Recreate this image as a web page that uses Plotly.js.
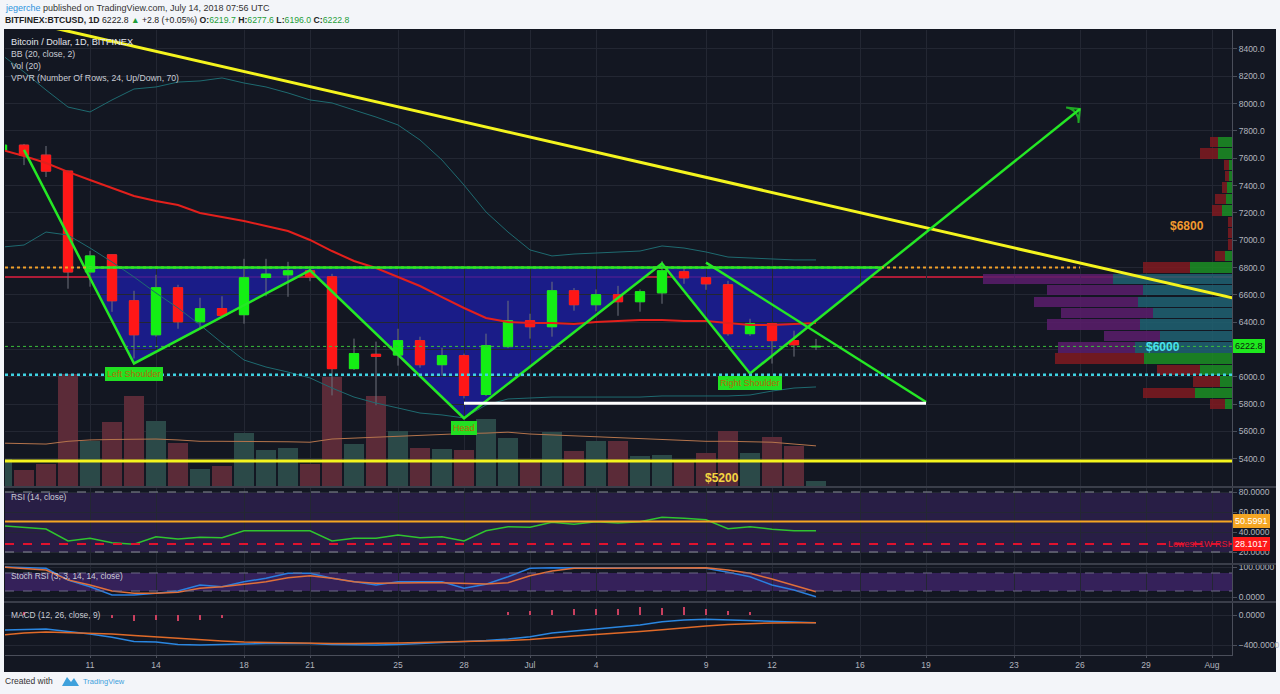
<!DOCTYPE html>
<html>
<head>
<meta charset="utf-8">
<script src="https://cdn.plot.ly/plotly-3.0.1.min.js"></script>
<style>
html,body{margin:0;padding:0;background:#f3f5f9;overflow:hidden;}
#chart{width:1280px;height:694px;}
</style>
</head>
<body>
<div id="chart"></div>
<script>
// ================= DATA =================
const dates = ['2018-06-07','2018-06-08','2018-06-09','2018-06-10','2018-06-11','2018-06-12','2018-06-13','2018-06-14','2018-06-15','2018-06-16','2018-06-17','2018-06-18','2018-06-19','2018-06-20','2018-06-21','2018-06-22','2018-06-23','2018-06-24','2018-06-25','2018-06-26','2018-06-27','2018-06-28','2018-06-29','2018-06-30','2018-07-01','2018-07-02','2018-07-03','2018-07-04','2018-07-05','2018-07-06','2018-07-07','2018-07-08','2018-07-09','2018-07-10','2018-07-11','2018-07-12','2018-07-13','2018-07-14'];
const open  = [7660,7696,7623,7506,6768,6893,6557,6308,6652,6403,6500,6455,6727,6747,6776,6732,6060,6165,6160,6265,6089,6155,5871,6221,6411,6367,6630,6528,6601,6550,6615,6769,6725,6674,6316,6389,6265,6219.7];
const high  = [7710,7705,7690,7510,6922,6895,6630,6747,6674,6579,6590,6864,6864,6842,6812,6754,6280,6258,6352,6294,6213,6170,6316,6557,6462,6696,6650,6640,6666,6640,6849,6790,6730,6703,6425,6395,6338,6277.6];
const low   = [7640,7550,7463,6645,6660,6476,6134,6294,6352,6359,6445,6389,6590,6586,6700,5864,6050,5792,6082,6067,6009,5842,5860,6210,6280,6294,6484,6480,6447,6477,6535,6681,6637,6301,6300,6097,6148,6196.0];
const close = [7696,7623,7506,6768,6885,6557,6308,6652,6403,6498,6450,6725,6752,6776,6732,6060,6170,6150,6265,6089,6155,5864,6228,6411,6367,6630,6528,6601,6550,6623,6776,6725,6681,6316,6389,6265,6235,6222.8];

const bbMid   = [7661,7617,7565,7500,7441,7382,7324,7287,7258,7199,7170,7141,7104,7068,7002,6921,6848,6797,6731,6665,6584,6504,6431,6401,6394,6394,6387,6401,6409,6416,6416,6409,6409,6394,6380,6380,6387,6394];
const bbUpper = [8356,8232,8100,7975,7939,8027,8107,8122,8158,8166,8188,8151,8122,8078,8027,8005,7953,7902,7844,7734,7587,7404,7207,7060,6929,6885,6899,6907,6914,6921,6958,6943,6914,6877,6870,6863,6856,6856];
const bbLower = [6950,6965,7060,7038,6943,6841,6731,6614,6504,6380,6248,6123,6072,6035,5992,5918,5852,5808,5772,5735,5721,5699,5794,5838,5845,5852,5852,5852,5852,5852,5860,5860,5860,5860,5867,5896,5918,5926];

const volume   = [5.9,3.5,4.8,24.5,9.8,14.0,19.7,14.2,9.4,3.7,4.4,11.6,7.9,8.3,4.8,23.9,9.2,19.7,12.0,8.3,8.1,7.9,14.7,10.5,5.3,11.8,7.7,9.8,9.8,6.6,6.8,5.3,7.2,12.0,7.2,10.7,8.8,1.1];
const volumeMA = [9.4,9.3,9.2,9.8,10.1,10.2,10.3,10.3,10.1,9.8,9.8,9.8,9.8,9.7,9.6,10.3,10.5,10.7,10.9,11.2,11.4,11.5,11.6,11.8,11.4,11.2,10.9,10.7,10.5,10.3,10.1,10.0,9.8,9.8,9.7,9.6,9.2,8.8];

const rsi    = [46.3,44.7,43,31,33.7,29.3,27.7,35.3,33,34.7,34.3,41.3,41.3,42,41.3,31,33.7,33.7,37,34.3,35.3,31,41.3,45.3,44.7,49.7,47.7,50.3,49,50.3,54.7,53.7,52.3,43.3,45.3,42.7,41.3,41.3];
const rsiLevelOrange = 50.5991;
const rsiLowest1W    = 28.1017;

const stochK = [100,98,95.7,56.7,34.3,6.7,6.7,12.3,20,40,34.3,51,62.3,79,79,62.3,51,40,51,51,51,29,42.3,67.7,95.7,97.7,97.7,97.7,97.7,97.7,97.7,98,95.7,82.3,67.7,40,23.3,1];
const stochD = [100,96,90,57,40,20,12.3,12.3,15.7,29,34.3,42.3,51,64.3,71,62.3,51,45.7,47.7,47.7,47.7,45.7,43.3,47.7,71,86.7,95.7,95.7,95.7,97.7,97.7,98,97.7,90,79,60,40,17.7];

const macd   = [-200,-193,-187,-220,-253,-297,-353,-360,-393,-400,-391,-380,-380,-380,-380,-393,-400,-400,-393,-380,-367,-360,-340,-320,-289,-240,-213,-177,-156,-133,-89,-67,-57,-67,-76,-89,-97,-103];
const signal = [-267,-240,-227,-233,-240,-253,-273,-293,-313,-333,-347,-360,-367,-373,-373,-380,-380,-380,-373,-367,-360,-353,-351,-340,-327,-300,-280,-260,-244,-220,-196,-167,-147,-127,-113,-105,-103,-103];
const macdHist = [0,40,0,0,0,-44,-80,-67,-80,-67,-44,0,0,0,0,0,0,0,0,0,0,0,0,44,53,71,80,80,80,103,93,103,80,57,44,0,0,0];

// Volume profile (24 rows): row centre price, up volume, down volume, value-area flag
const vpvrPrice = [5799,5882,5966,6049,6133,6216,6300,6383,6467,6550,6634,6717,6801,6884,6968,7051,7135,7218,7302,7385,7469,7552,7636,7719];
const vpvrUp    = [7,37,12,32,88,97,72,92,79,94,89,119,42,7,0,0,0,10,6,5,3,3,14,14];
const vpvrDown  = [15,52,27,43,89,77,56,93,92,104,96,130,47,10,4,4,4,10,11,5,4,5,18,8];
const vpvrValueArea = [0,0,0,0,0,1,1,1,1,1,1,1,0,0,0,0,0,0,0,0,0,0,0,0];

// Drawings (date, price)
const trendDates = ['2018-06-08','2018-08-02'];
const trendPrices = [8604, 6575];
const hsDates  = ['2018-06-08','2018-06-13','2018-06-21','2018-06-28','2018-07-07','2018-07-11'];
const hsPrices = [7661, 6098, 6780, 5697, 6830, 6025];
const arrowDates  = ['2018-07-11','2018-07-26'];
const arrowPrices = [6025, 7961];
const fallDates  = ['2018-07-09','2018-07-19'];
const fallPrices = [6836, 5816];
const floorDates  = ['2018-06-28','2018-07-19'];
const floorPrices = [5806, 5806];
const neckDates  = ['2018-06-10 20:00','2018-07-17 00:00'];
const neckPrice  = 6800;
const resistDates = ['2018-06-07','2018-07-26'];
const resistPrice = 6800;
const redLevel = 6730;
const supportLevel = 6015;
const yellowLevel = 5384;
const hsLabels = ['Left Shoulder','Head','Right Shoulder'];
const hsLabelDates = ['2018-06-13','2018-06-28','2018-07-11'];
const hsLabelPrices = [6021, 5625, 5955];
const noteTexts = ['$6800','$6000','$5200'];
const noteDates = ['2018-07-30 21:00','2018-07-29 19:00','2018-07-09 17:00'];
const notePrices = [7104, 6218, 5259];

const xTickVals = ['2018-06-11','2018-06-14','2018-06-18','2018-06-21','2018-06-25','2018-06-28','2018-07-01','2018-07-04','2018-07-09','2018-07-12','2018-07-16','2018-07-19','2018-07-23','2018-07-26','2018-07-29','2018-08-01'];
const xTickText = ['11','14','18','21','25','28','Jul','4','9','12','16','19','23','26','29','Aug'];
const priceTicks = [5400,5600,5800,6000,6200,6400,6600,6800,7000,7200,7400,7600,7800,8000,8200,8400];

// ================= STYLE / LAYOUT =================
const FONT = 'Liberation Sans, Arial, sans-serif';
const BG = '#131722';
const GRID = '#232733';
const AX = '#b2b5be';
const LINE = '#4a4e5a';
const DAY = 86400000;
const xRange = ['2018-06-07 03:16','2018-08-01 21:49'];
const xEdge = Date.UTC(2018,7,1,21,49);
const vpvrUnit = DAY/22;
const GREEN = '#14ef14', RED = '#ff1717', HS = '#25e825';

const isUp = close.map((c,i)=>c>=open[i]);
const last = close.length-1;
const traces = [];

// volume (base subplot)
traces.push({type:'bar', x:dates, y:volume, xaxis:'x', yaxis:'y', width:DAY*0.94,
  marker:{color:isUp.map(u=>u?'#2b4948':'#5b2b38'), line:{width:0}}, hoverinfo:'skip'});
traces.push({type:'scatter', mode:'lines', x:dates, y:volumeMA, xaxis:'x', yaxis:'y',
  line:{color:'#b5744c', width:1}, hoverinfo:'skip'});

// VPVR (horizontal bars anchored at the right edge)
const upLen = vpvrUp.map(v=>v*vpvrUnit);
const dnLen = vpvrDown.map(v=>v*vpvrUnit);
traces.push({type:'bar', orientation:'h', y:vpvrPrice, x:upLen, base:upLen.map(l=>xEdge-l),
  xaxis:'x', yaxis:'y2', width:76, opacity:0.85,
  marker:{color:vpvrValueArea.map(v=>v?'#1f6272':'#1c8f24'), line:{width:0}}, hoverinfo:'skip'});
traces.push({type:'bar', orientation:'h', y:vpvrPrice, x:dnLen, base:dnLen.map((l,i)=>xEdge-upLen[i]-l),
  xaxis:'x', yaxis:'y2', width:76, opacity:0.85,
  marker:{color:vpvrValueArea.map(v=>v?'#5b1d6c':'#801a20'), line:{width:0}}, hoverinfo:'skip'});

// candles: wicks, then bodies
traces.push({type:'candlestick', x:dates, open:open, high:high, low:low, close:close, xaxis:'x', yaxis:'y2',
  whiskerwidth:0, increasing:{line:{color:'#6f727d',width:1}, fillcolor:'#6f727d'},
  decreasing:{line:{color:'#6f727d',width:1}, fillcolor:'#6f727d'}, hoverinfo:'skip'});
traces.push({type:'candlestick', x:dates, open:open, close:close,
  high:open.map((o,i)=>Math.max(o,close[i])), low:open.map((o,i)=>Math.min(o,close[i])),
  xaxis:'x', yaxis:'y2', whiskerwidth:0,
  increasing:{line:{color:GREEN,width:1}, fillcolor:GREEN},
  decreasing:{line:{color:RED,width:1}, fillcolor:RED}, hoverinfo:'skip'});

// Bollinger bands
traces.push({type:'scatter', mode:'lines', x:dates, y:bbUpper, xaxis:'x', yaxis:'y2', line:{color:'#1e6a70', width:1}, hoverinfo:'skip'});
traces.push({type:'scatter', mode:'lines', x:dates, y:bbLower, xaxis:'x', yaxis:'y2', line:{color:'#1e6a70', width:1}, hoverinfo:'skip'});
traces.push({type:'scatter', mode:'lines', x:dates, y:bbMid, xaxis:'x', yaxis:'y2', line:{color:'#e3201c', width:2}, hoverinfo:'skip'});

// drawings
traces.push({type:'scatter', mode:'lines', x:trendDates, y:trendPrices, xaxis:'x', yaxis:'y2', line:{color:'#f4f41e', width:3}, hoverinfo:'skip'});
traces.push({type:'scatter', mode:'lines', x:hsDates, y:hsPrices, xaxis:'x', yaxis:'y2', line:{color:HS, width:2.5}, hoverinfo:'skip'});
traces.push({type:'scatter', mode:'lines', x:fallDates, y:fallPrices, xaxis:'x', yaxis:'y2', line:{color:HS, width:2.5}, hoverinfo:'skip'});
traces.push({type:'scatter', mode:'lines+markers', x:arrowDates, y:arrowPrices, xaxis:'x', yaxis:'y2',
  line:{color:HS, width:2.5},
  marker:{symbol:['circle','arrow-wide-open'], size:[0,14], angleref:'previous', color:HS, line:{color:HS,width:2}}, hoverinfo:'skip'});
traces.push({type:'scatter', mode:'lines', x:floorDates, y:floorPrices, xaxis:'x', yaxis:'y2', line:{color:'#ffffff', width:3}, hoverinfo:'skip'});

// RSI
traces.push({type:'scatter', mode:'lines', x:dates, y:rsi, xaxis:'x', yaxis:'y3', line:{color:'#2fc42f', width:1.5}, hoverinfo:'skip'});
// Stoch RSI
traces.push({type:'scatter', mode:'lines', x:dates, y:stochK, xaxis:'x', yaxis:'y4', line:{color:'#2a7fe0', width:1.5}, hoverinfo:'skip'});
traces.push({type:'scatter', mode:'lines', x:dates, y:stochD, xaxis:'x', yaxis:'y4', line:{color:'#e0703a', width:1.5}, hoverinfo:'skip'});
// MACD
traces.push({type:'bar', x:dates, y:macdHist, xaxis:'x', yaxis:'y5', width:DAY*0.08, marker:{color:'#c8405f', line:{width:0}}, hoverinfo:'skip'});
traces.push({type:'scatter', mode:'lines', x:dates, y:macd, xaxis:'x', yaxis:'y5', line:{color:'#2a86e0', width:1.5}, hoverinfo:'skip'});
traces.push({type:'scatter', mode:'lines', x:dates, y:signal, xaxis:'x', yaxis:'y5', line:{color:'#e06a28', width:1.5}, hoverinfo:'skip'});

// -------- shapes --------
const px = v => (v-5)/1227;      // page x -> paper
const py = v => (655-v)/625;     // page y -> paper
const fillPath = 'M' + neckDates[0].replace(' ','_') + ',' + neckPrice +
  hsDates.slice(1).map((d,i)=>'L'+d+','+hsPrices[i+1]).join('') +
  'L' + neckDates[1].replace(' ','_') + ',' + neckPrice + 'Z';

const shapes = [
  {type:'rect', xref:'paper', yref:'paper', x0:px(4), x1:px(1276), y0:py(672), y1:py(29), fillcolor:BG, line:{width:0}, layer:'below'},
  {type:'line', xref:'paper', yref:'y2', x0:0, x1:1, y0:redLevel, y1:redLevel, line:{color:'#e21f3f', width:1.5}, layer:'below'},
  {type:'path', xref:'x', yref:'y2', path:fillPath, fillcolor:'rgba(28,30,165,0.78)', line:{width:0}, layer:'below'},
  // RSI band
  {type:'rect', xref:'paper', yref:'y3', x0:0, x1:1, y0:20, y1:80, fillcolor:'#281e45', line:{width:0}, layer:'below'},
  {type:'line', xref:'paper', yref:'y3', x0:0, x1:1, y0:80, y1:80, line:{color:'#8a8d99', width:1, dash:'dash'}},
  {type:'line', xref:'paper', yref:'y3', x0:0, x1:1, y0:20, y1:20, line:{color:'#8a8d99', width:1, dash:'dash'}},
  {type:'line', xref:'paper', yref:'y3', x0:0, x1:1, y0:rsiLevelOrange, y1:rsiLevelOrange, line:{color:'#f5a623', width:2}},
  {type:'line', xref:'paper', yref:'y3', x0:0, x1:1, y0:rsiLowest1W, y1:rsiLowest1W, line:{color:'#e0122e', width:2, dash:'dash'}},
  // Stoch band
  {type:'rect', xref:'paper', yref:'y4', x0:0, x1:1, y0:20, y1:80, fillcolor:'#35215a', line:{width:0}, layer:'below'},
  {type:'line', xref:'paper', yref:'y4', x0:0, x1:1, y0:80, y1:80, line:{color:'#6e6a86', width:1, dash:'dash'}},
  {type:'line', xref:'paper', yref:'y4', x0:0, x1:1, y0:20, y1:20, line:{color:'#6e6a86', width:1, dash:'dash'}},
  // horizontal price drawings
  {type:'line', xref:'paper', yref:'y2', x0:0, x1:1, y0:close[last], y1:close[last], line:{color:'#3cbf3c', width:1, dash:'dot'}},
  {type:'line', xref:'paper', yref:'y2', x0:0, x1:1, y0:supportLevel, y1:supportLevel, line:{color:'#3fd3e3', width:2.5, dash:'dot'}},
  {type:'line', xref:'paper', yref:'y2', x0:0, x1:1, y0:yellowLevel, y1:yellowLevel, line:{color:'#f4f41e', width:3}},
  {type:'line', xref:'x', yref:'y2', x0:xRange[0], x1:resistDates[1], y0:resistPrice, y1:resistPrice, line:{color:'#f0a02a', width:2, dash:'dot'}},
  {type:'line', xref:'x', yref:'y2', x0:neckDates[0], x1:neckDates[1], y0:neckPrice, y1:neckPrice, line:{color:HS, width:2.5}},
  // panel separators
  {type:'line', xref:'paper', yref:'paper', x0:px(4), x1:px(1276), y0:py(487), y1:py(487), line:{color:'#3a3e4a', width:2}},
  {type:'line', xref:'paper', yref:'paper', x0:px(4), x1:px(1276), y0:py(564), y1:py(564), line:{color:'#3a3e4a', width:2}},
  {type:'line', xref:'paper', yref:'paper', x0:px(4), x1:px(1276), y0:py(602), y1:py(602), line:{color:'#3a3e4a', width:2}},
  // footer logo
  {type:'path', xref:'paper', yref:'paper', path:`M${px(62)},${py(686)} L${px(67)},${py(677)} L${px(71)},${py(682)} L${px(74)},${py(678)} L${px(79)},${py(686)} Z`, fillcolor:'#3ea1dc', line:{width:0}}
];

// -------- annotations --------
const ann = [];
const T = (text, x, y, opts={}) => Object.assign({text, x, y, xref:'paper', yref:'paper', showarrow:false,
  xanchor:'left', yanchor:'middle', font:{family:FONT, size:9, color:'#333'}}, opts);
const G = '#1f9e3a';
ann.push(T('<span style="color:#2f93dd">jegerche</span> published on TradingView.com, July 14, 2018 07:56 UTC', px(3), py(8)));
ann.push(T(`<b>BITFINEX:BTCUSD, 1D</b> ${close[last].toFixed(1)} <span style="color:${G}">▲</span> +2.8 (+0.05%) <b>O:</b><span style="color:${G}">${open[last].toFixed(1)}</span> <b>H:</b><span style="color:${G}">${high[last].toFixed(1)}</span> <b>L:</b><span style="color:${G}">${low[last].toFixed(1)}</span> <b>C:</b><span style="color:${G}">${close[last].toFixed(1)}</span>`, px(3), py(20), {font:{family:FONT, size:8.7, color:'#222'}}));
ann.push(T('Created with', px(3), py(681), {font:{family:FONT, size:8.5, color:'#333'}}));
ann.push(T('TradingView', px(81), py(681), {font:{family:FONT, size:7.5, color:'#3ea1dc'}}));

const legendFont = {family:FONT, size:8.7, color:'#c9ccd4'};
['Bitcoin / Dollar, 1D, BITFINEX','BB (20, close, 2)','Vol (20)','VPVR (Number Of Rows, 24, Up/Down, 70)'].forEach((t,i)=>{
  ann.push(T(t, px(9), py(42+12*i), {font:Object.assign({}, legendFont, i===0?{color:'#e2e5ec', size:9.2}:{})}));
});
const subFont = {family:FONT, size:8.4, color:'#c9ccd4'};
ann.push(T('RSI (14, close)', px(9), py(497), {font:subFont}));
ann.push(T('Stoch RSI (3, 3, 14, 14, close)', px(9), py(576), {font:subFont}));
ann.push(T('MACD (12, 26, close, 9)', px(9), py(615), {font:subFont}));

// head & shoulders labels
hsLabels.forEach((t,i)=>ann.push({text:t, x:hsLabelDates[i], y:hsLabelPrices[i], xref:'x', yref:'y2', showarrow:false,
  bgcolor:'#22e022', bordercolor:'#22e022', borderpad:1, font:{family:FONT, size:9, color:'#b46a08'}}));
// price notes
const noteColors = ['#f29a2e','#48e2ec','#f5d640'];
noteTexts.forEach((t,i)=>ann.push({text:'<b>'+t+'</b>', x:noteDates[i], y:notePrices[i], xref:'x', yref:'y2', showarrow:false,
  font:{family:FONT, size:12, color:noteColors[i]}}));

// axis value boxes
const box = (text, y, yref, bg, fg) => ({text, x:px(1233), y, xref:'paper', yref, xanchor:'left', yanchor:'middle', showarrow:false,
  bgcolor:bg, bordercolor:bg, borderpad:1, font:{family:FONT, size:9, color:fg}});
ann.push(box(close[last].toFixed(1), close[last], 'y2', '#1ee81e', '#0b1a0b'));
ann.push(box(rsiLevelOrange.toFixed(4), rsiLevelOrange, 'y3', '#f5a623', '#ffffff'));
ann.push(box(rsiLowest1W.toFixed(4), rsiLowest1W, 'y3', '#ff1a1a', '#ffffff'));
ann.push({text:'Lowest 1W RSI', x:1, y:rsiLowest1W, xref:'paper', yref:'y3', xanchor:'right', yanchor:'middle', showarrow:false,
  font:{family:FONT, size:9, color:'#e8142e'}});

const yTick = {family:FONT, size:8.5, color:AX};
const yCommon = {side:'right', anchor:'x', showgrid:true, gridcolor:GRID, zeroline:false, showline:true, linecolor:LINE, linewidth:1,
  ticks:'outside', ticklen:4, tickcolor:LINE, tickfont:yTick, fixedrange:true};

const layout = {
  width:1280, height:694, margin:{l:5, r:48, t:30, b:39},
  paper_bgcolor:'#f3f5f9', plot_bgcolor:BG, showlegend:false,
  barmode:'overlay', boxmode:'overlay', boxgap:0.4, bargap:0,
  font:{family:FONT},
  xaxis:{type:'date', range:xRange, domain:[0,1], anchor:'y5', showgrid:true, gridcolor:GRID, zeroline:false,
    tickvals:xTickVals, ticktext:xTickText, tickfont:{family:FONT, size:8.5, color:AX}, ticks:'outside', ticklen:2, tickcolor:LINE,
    showline:true, linecolor:LINE, rangeslider:{visible:false}, fixedrange:true},
  yaxis:{domain:[py(486),1], range:[0,100], visible:false, showgrid:false, fixedrange:true},
  // the last-price box covers the 6200 label, as in the picture
  yaxis2:Object.assign({}, yCommon, {overlaying:'y', range:[5200.9,8539], tickvals:priceTicks,
    ticktext:priceTicks.map(v=>v===6200?'':v.toFixed(1))}),
  yaxis3:Object.assign({}, yCommon, {domain:[py(563),py(488)], range:[9,84], tickvals:[20,40,60,80], tickformat:'.4f'}),
  yaxis4:Object.assign({}, yCommon, {domain:[py(601),py(565)], range:[-13.3,106.7], tickvals:[0,100], tickformat:'.4f'}),
  yaxis5:Object.assign({}, yCommon, {domain:[0,py(603)], range:[-533,160], tickvals:[-400,0], tickformat:'.4f'}),
  shapes:shapes, annotations:ann
};

Plotly.newPlot('chart', traces, layout, {staticPlot:true, displayModeBar:false});
</script>
</body>
</html>
